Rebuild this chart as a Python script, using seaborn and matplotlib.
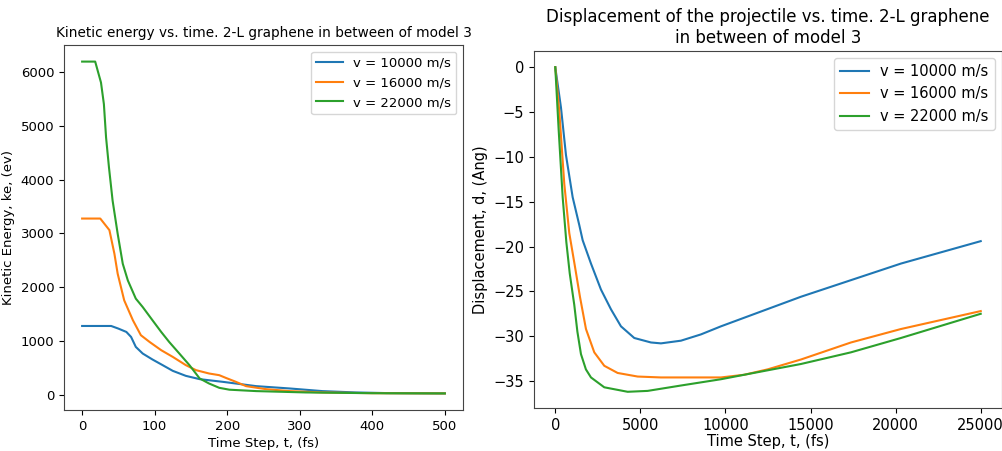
import matplotlib
matplotlib.use("Agg")
import matplotlib.pyplot as plt
import seaborn as sns
import pandas as pd

labels = ["v = 10000 m/s", "v = 16000 m/s", "v = 22000 m/s"]

# Left panel: kinetic energy vs time
ke_t_blue = [0, 20, 40, 50, 61, 67.5, 74, 83.5, 97, 111, 125, 143, 162, 194, 240, 286, 331, 377, 420, 500]
ke_v_blue = [1279, 1279, 1279, 1230, 1168, 1075, 890, 767, 656, 551, 445, 352, 291, 241, 161, 118, 69, 44, 32, 26]

ke_t_orange = [0, 12, 25, 37.6, 44.5, 49, 58, 70, 81, 93, 109, 125, 143, 157, 175, 189, 198, 212, 226, 253, 286, 331, 400, 500]
ke_v_orange = [3275, 3275, 3275, 3060, 2621, 2250, 1755, 1385, 1107, 982, 829, 704, 551, 458, 396, 365, 315, 241, 161, 106, 69, 44, 30, 26]

ke_t_green = [0, 10, 18, 26, 30, 33, 37, 42, 49, 56, 63, 74, 83.5, 97, 109, 120, 134, 148, 162, 175, 189, 203, 240, 308, 400, 500]
ke_v_green = [6191, 6191, 6191, 5802, 5401, 4782, 4226, 3609, 2992, 2436, 2126, 1787, 1631, 1385, 1168, 982, 767, 550, 304, 210, 130, 95, 69, 44, 30, 26]

# Right panel: displacement vs time
d_t_blue = [0, 335, 629, 1022, 1410, 1610, 2098, 2685, 3273, 3860, 4642, 5622, 6210, 7385, 8560, 9735, 14436, 20311, 25000]
d_v_blue = [0, -4.5, -9.8, -14.5, -17.6, -19.3, -21.9, -24.8, -27.0, -28.9, -30.2, -30.7, -30.8, -30.5, -29.8, -28.9, -25.6, -21.9, -19.4]

d_t_orange = [0, 235, 529, 823, 1136, 1450, 1804, 2292, 2880, 3664, 4841, 6210, 8560, 9735, 11105, 12480, 14436, 17374, 20311, 25000]
d_v_orange = [0, -4.9, -13.0, -18.5, -22.0, -25.6, -29.2, -31.8, -33.3, -34.1, -34.5, -34.6, -34.6, -34.6, -34.3, -33.7, -32.6, -30.7, -29.2, -27.2]

d_t_green = [0, 200, 435, 650, 850, 1116, 1300, 1510, 1800, 2098, 2880, 4253, 5429, 7385, 9735, 11105, 14436, 17374, 20311, 25000]
d_v_green = [0, -7.0, -14.5, -19.5, -23.0, -26.5, -29.5, -32.0, -33.7, -34.6, -35.7, -36.2, -36.1, -35.5, -34.8, -34.3, -33.1, -31.8, -30.2, -27.5]

palette = ["#1f77b4", "#ff7f0e", "#2ca02c"]

def long_df(ts, vs):
    rows = []
    for lab, t, v in zip(labels, ts, vs):
        rows.append(pd.DataFrame({"t": t, "v": v, "series": lab}))
    return pd.concat(rows, ignore_index=True)

ke_df = long_df([ke_t_blue, ke_t_orange, ke_t_green], [ke_v_blue, ke_v_orange, ke_v_green])
d_df = long_df([d_t_blue, d_t_orange, d_t_green], [d_v_blue, d_v_orange, d_v_green])

plt.rcParams['font.family'] = ['DejaVu Sans']
fig = plt.figure(figsize=(10.03, 4.51), dpi=100)
ax1 = fig.add_axes([0.0638, 0.0909, 0.3978, 0.8093])
ax2 = fig.add_axes([0.5324, 0.0953, 0.4666, 0.7917])

sns.lineplot(data=ke_df, x="t", y="v", hue="series", palette=palette, ax=ax1, linewidth=1.5, sort=False, estimator=None)
sns.lineplot(data=d_df, x="t", y="v", hue="series", palette=palette, ax=ax2, linewidth=1.5, sort=False, estimator=None)

ax1.set_title("Kinetic energy vs. time. 2-L graphene in between of model 3", fontsize=9.8)
ax1.set_xlabel("Time Step, t, (fs)", fontsize=9.5, labelpad=3)
ax1.set_ylabel("Kinetic Energy, ke, (ev)", fontsize=9.5)
ax1.set_xticks([0, 100, 200, 300, 400, 500])
ax1.set_yticks([0, 1000, 2000, 3000, 4000, 5000, 6000])
ax1.tick_params(labelsize=9.5)
ax1.legend(title=None, loc="upper right", fontsize=9.5)

ax2.set_title("Displacement of the projectile vs. time. 2-L graphene\nin between of model 3", fontsize=12)
ax2.set_xlabel("Time Step, t, (fs)", fontsize=10.5, labelpad=1)
ax2.set_ylabel("Displacement, d, (Ang)", fontsize=10.5)
ax2.set_xticks([0, 5000, 10000, 15000, 20000, 25000])
ax2.set_yticks([0, -5, -10, -15, -20, -25, -30, -35])
ax2.tick_params(labelsize=10.5)
ax2.legend(title=None, loc="upper right", fontsize=10.5)

for ax in (ax1, ax2):
    for s in ax.spines.values():
        s.set_color("#444444")

fig.savefig("out.png", dpi=100)
